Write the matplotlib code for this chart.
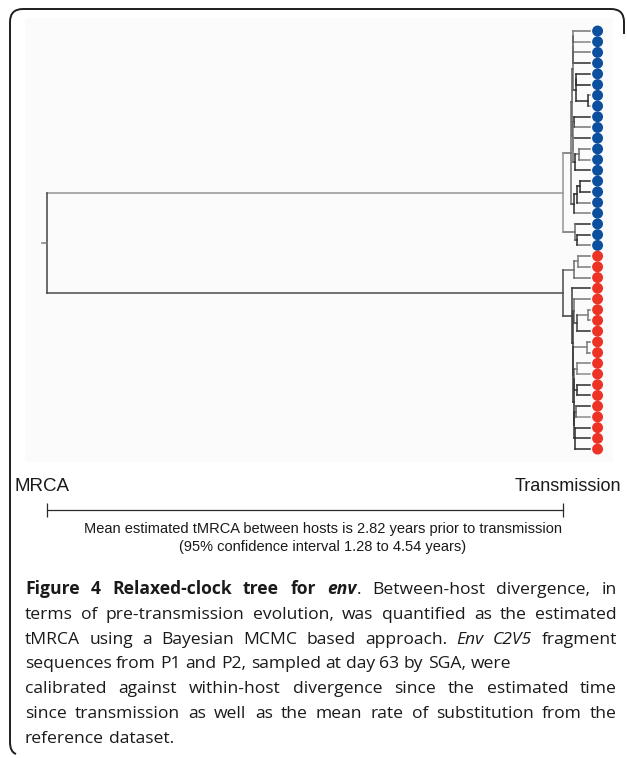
import matplotlib
matplotlib.use("Agg")
import matplotlib.pyplot as plt
from matplotlib.collections import LineCollection
from matplotlib.colors import LinearSegmentedColormap
from matplotlib.path import Path
from matplotlib.patches import PathPatch, Rectangle
from matplotlib.transforms import ScaledTranslation

W, H, DPI = 627, 758, 100

# ---- time axis (years relative to transmission) ----
mrca_time = -2.82
transmission_time = 0.0
sampling_time = 0.148

# ---- tips, top to bottom ----
tip_host = ["P1"] * 21 + ["P2"] * 19
host_colors = {"P1": "#0c4f9e", "P2": "#ec3326"}

# relative substitution rate on each terminal branch (0 = slow, 1 = fast)
tip_rate = [0.45, 0.35, 0.45, 0.9, 0.9, 0.95, 0.3, 0.3, 0.9, 0.45,
            0.9, 0.45, 0.4, 0.9, 0.9, 0.9, 0.45, 0.4, 0.9, 0.9, 0.45,
            0.45, 0.4, 0.45, 0.9, 0.45, 0.4, 0.4, 0.9, 0.45, 0.45,
            0.4, 0.3, 0.9, 0.9, 0.9, 0.3, 0.9, 0.9, 0.9]

# internal nodes: (node time in years, branch rate, children); ints are tips
p1_clade = (0.0, 0.25, [
    (0.044, 0.5, [
        (0.050, 0.6, [
            (0.052, 0.5, [
                (0.055, 0.6, [(0.057, 0.4, [0, 1]), (0.057, 0.9, [2, 3])]),
                (0.071, 0.9, [(0.073, 0.9, [4, 5]), (0.138, 0.9, [6, 7])]),
            ]),
            (0.053, 0.4, [
                (0.060, 0.9, [8, 9]),
                (0.055, 0.5, [10, (0.066, 0.9, [(0.090, 0.5, [11, 12]), 13])]),
            ]),
        ]),
        (0.060, 0.9, [
            (0.075, 0.9, [(0.093, 0.9, [14, 15]), 16]),
            17,
        ]),
    ]),
    (0.066, 0.5, [18, (0.075, 0.9, [19, 20])]),
])

p2_clade = (0.0, 0.7, [
    (0.062, 0.5, [(0.080, 0.4, [21, 22]), 23]),
    (0.051, 0.8, [
        24,
        (0.056, 0.8, [
            (0.060, 0.5, [25, (0.075, 0.8, [(0.138, 0.4, [26, 27]), 28])]),
            (0.057, 0.8, [
                (0.133, 0.4, [29, 30]),
                (0.058, 0.9, [
                    (0.060, 0.5, [(0.075, 0.4, [31, 32]), (0.076, 0.9, [33, 34])]),
                    (0.062, 0.8, [(0.070, 0.6, [35, 36]), (0.065, 0.9, [37, 38, 39])]),
                ]),
            ]),
        ]),
    ]),
])
root_rate = 0.75

# ---- text ----
axis_left_label = "MRCA"
axis_right_label = "Transmission"
estimate_lines = ["Mean estimated tMRCA between hosts is 2.82 years prior to transmission",
                  "(95% confidence interval 1.28 to 4.54 years)"]
caption_lines = [
    ([("Figure 4 Relaxed-clock tree for ", "b"), ("env", "bi"),
      (". Between-host divergence, in", "r")], True),
    ([("terms of pre-transmission evolution, was quantified as the estimated", "r")], True),
    ([("tMRCA using a Bayesian MCMC based approach. ", "r"), ("Env C2V5", "i"),
      (" fragment", "r")], True),
    ([("sequences from P1 and P2, sampled at day 63 by SGA, were", "r")], False),
    ([("calibrated against within-host divergence since the estimated time", "r")], True),
    ([("since transmission as well as the mean rate of substitution from the", "r")], True),
    ([("reference dataset.", "r")], False),
]

# ---- layout (pixels) ----
mrca_px, transmission_px = 47, 563
tip_top, tip_step = 31, 10.72
px_per_year = (transmission_px - mrca_px) / (transmission_time - mrca_time)

fig = plt.figure(figsize=(W / DPI, H / DPI), dpi=DPI)
ov = fig.add_axes([0, 0, 1, 1])
ov.set_xlim(0, W)
ov.set_ylim(H, 0)
ov.axis("off")

ax = fig.add_axes([0, 0, 1, 1])
ax.patch.set_alpha(0)
ax.set_xlim((0 - transmission_px) / px_per_year, (W - transmission_px) / px_per_year)
ax.set_ylim(H, 0)
ax.axis("off")

# faint panel behind the tree
ov.add_patch(Rectangle((25, 18), 588, 444, facecolor="#fbfbfb", edgecolor="none", zorder=0))

# rounded frame (open at right and bottom)
verts = [(16, 754), (10, 752), (10, 742), (10, 22), (10, 9), (23, 9),
         (611, 9), (624, 9), (624, 22), (624, 34)]
codes = [Path.MOVETO, Path.CURVE3, Path.CURVE3, Path.LINETO, Path.CURVE3, Path.CURVE3,
         Path.LINETO, Path.CURVE3, Path.CURVE3, Path.LINETO]
ov.add_patch(PathPatch(Path(verts, codes), facecolor="none", edgecolor="#1e1e1e", lw=1.4))

# ---- tree ----
rate_cmap = LinearSegmentedColormap.from_list("rate", ["#bdbdbd", "#1c1c1c"])
segments, seg_rates = [], []


def place(node, parent_t):
    if isinstance(node, int):
        y = tip_top + node * tip_step
        segments.append([(parent_t, y), (sampling_time, y)])
        seg_rates.append(tip_rate[node])
        return y
    t, rate, kids = node
    ys = [place(k, t) for k in kids]
    segments.append([(t, min(ys)), (t, max(ys))])
    seg_rates.append(rate)
    y = (min(ys) + max(ys)) / 2
    segments.append([(parent_t, y), (t, y)])
    seg_rates.append(rate)
    return y


y_p1 = place(p1_clade, mrca_time)
y_p2 = place(p2_clade, mrca_time)
segments.append([(mrca_time, y_p1), (mrca_time, y_p2)])
seg_rates.append(root_rate)
y_root = (y_p1 + y_p2) / 2
segments.append([(mrca_time - 0.028, y_root), (mrca_time, y_root)])
seg_rates.append(0.4)

ax.add_collection(LineCollection(segments, colors=[rate_cmap(r) for r in seg_rates],
                                 linewidths=1.1, capstyle="projecting"))

tip_y = [tip_top + i * tip_step for i in range(len(tip_host))]
dot_shift = ScaledTranslation(7.5 / DPI, 0, fig.dpi_scale_trans)
ax.scatter([sampling_time] * len(tip_y), tip_y, s=62,
           c=[host_colors[h] for h in tip_host], edgecolors="none",
           transform=ax.transData + dot_shift, zorder=3)

# ---- time scale bar ----
bar_y = 510
ax.plot([mrca_time, transmission_time], [bar_y, bar_y], color="#2a2a2a", lw=0.9)
ax.vlines([mrca_time, transmission_time], bar_y - 7, bar_y + 7, color="#2a2a2a", lw=0.9)

label_font = "Liberation Sans"
ov.text(15, 491, axis_left_label, family=label_font, fontsize=13.5, color="#1a1a1a",
        ha="left", va="baseline")
ov.text(621, 491, axis_right_label, family=label_font, fontsize=13, color="#1a1a1a",
        ha="right", va="baseline")
for k, line in enumerate(estimate_lines):
    ov.text(323, 533.5 + 17.5 * k, line, family=label_font, fontsize=10.5,
            color="#1a1a1a", ha="center", va="baseline")

# ---- justified figure caption ----
cap_font, cap_size = "Open Sans", 12.6
styles = {"r": dict(fontweight="normal", fontstyle="normal"),
          "b": dict(fontweight="bold", fontstyle="normal"),
          "i": dict(fontweight="normal", fontstyle="italic"),
          "bi": dict(fontweight="bold", fontstyle="italic")}
renderer = fig.canvas.get_renderer()


def measure(text, style):
    t = ov.text(0, 0, text, family=cap_font, fontsize=cap_size, **styles[style])
    w = t.get_window_extent(renderer).width
    t.remove()
    return w


def split_words(runs):
    words = [[]]
    for text, style in runs:
        for k, part in enumerate(text.split(" ")):
            if k > 0:
                words.append([])
            if part:
                words[-1].append((part, style))
    return [w for w in words if w]


space_w = measure("a a", "r") - measure("aa", "r")
cap_left, cap_right = 25, 617
cap_base, cap_step = 594, 24.8
for li, (runs, justify) in enumerate(caption_lines):
    words = split_words(runs)
    widths = [[measure(p, s) for p, s in w] for w in words]
    total = sum(sum(w) for w in widths)
    gap = (cap_right - cap_left - total) / (len(words) - 1) if justify else space_w
    x = cap_left
    y = cap_base + li * cap_step
    for w, ws in zip(words, widths):
        for (p, s), pw in zip(w, ws):
            ov.text(x, y, p, family=cap_font, fontsize=cap_size, color="#1a1a1a",
                    ha="left", va="baseline", **styles[s])
            x += pw
        x += gap

fig.savefig("out.png", dpi=DPI)
